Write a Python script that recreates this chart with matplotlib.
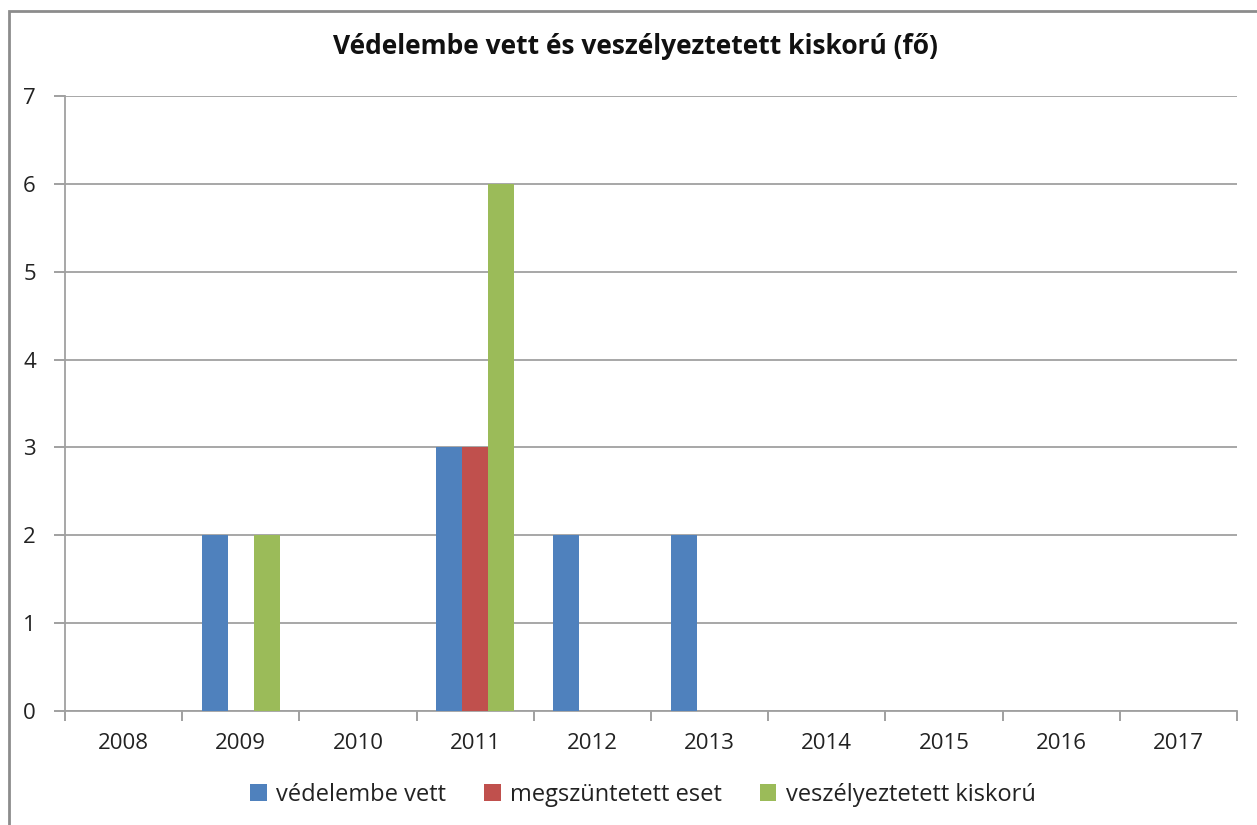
import matplotlib
matplotlib.use('Agg')
import matplotlib.pyplot as plt
import numpy as np
from matplotlib.patches import Rectangle

years = ['2008', '2009', '2010', '2011', '2012', '2013', '2014', '2015', '2016', '2017']
vedelembe_vett = [0, 2, 0, 3, 2, 2, 0, 0, 0, 0]
megszuntetett = [0, 0, 0, 3, 0, 0, 0, 0, 0, 0]
veszelyeztetett = [0, 2, 0, 6, 0, 0, 0, 0, 0, 0]

series = [
    ('védelembe vett', vedelembe_vett, '#4F81BD'),
    ('megszüntetett eset', megszuntetett, '#C0504D'),
    ('veszélyeztetett kiskorú', veszelyeztetett, '#9BBB59'),
]

plt.rcParams['font.family'] = ['Open Sans', 'DejaVu Sans']

fig = plt.figure(figsize=(12.57, 8.25), dpi=100)
ax = fig.add_axes([65 / 1257, 1 - 711 / 825, (1237 - 65) / 1257, (711 - 96) / 825])

# chart area border (only top/left visible in the original crop)
fig.patches.append(Rectangle((9 / 1257, -0.05), 1.1, 1 - 11 / 825 + 0.05,
                             transform=fig.transFigure, fill=False,
                             edgecolor='#8c8c8c', linewidth=2))

x = np.arange(len(years))
bw = 1 / 4.5  # excel gap width 150%
for i, (name, vals, col) in enumerate(series):
    ax.bar(x + (i - 1) * bw, vals, width=bw, color=col, label=name, zorder=3)

ax.set_xlim(-0.5, len(years) - 0.5)
ax.set_ylim(0, 7)
ax.set_yticks(range(0, 8))
ax.set_xticks(x)
ax.set_xticklabels(years)
ax.set_xticks(np.arange(-0.5, len(years)), minor=True)
ax.tick_params(axis='x', which='major', length=0, labelsize=16, pad=16)
ax.tick_params(axis='x', which='minor', length=7, color='#999999', width=1.3)
ax.tick_params(axis='y', length=8, color='#999999', width=1.3, labelsize=16, pad=13)
ax.tick_params(axis='both', labelcolor='#222222')

ax.grid(axis='y', color='#a0a0a0', linewidth=1.3, zorder=0)
for s in ['top', 'right']:
    ax.spines[s].set_visible(False)
for s in ['left', 'bottom']:
    ax.spines[s].set_color('#a0a0a0')
    ax.spines[s].set_linewidth(1.3)

fig.text(635 / 1257, 1 - 47 / 825, 'Védelembe vett és veszélyeztetett kiskorú (fő)',
         ha='center', va='center', fontsize=19, fontweight='bold', color='#111111')

fig.legend(loc='center', bbox_to_anchor=(643 / 1257, 1 - 795 / 825), ncol=3,
           frameon=False, fontsize=17, handlelength=0.7, handleheight=0.7,
           handletextpad=0.4, columnspacing=1.6, labelcolor='#222222')

fig.savefig('out.png', dpi=100)
plt.close(fig)
